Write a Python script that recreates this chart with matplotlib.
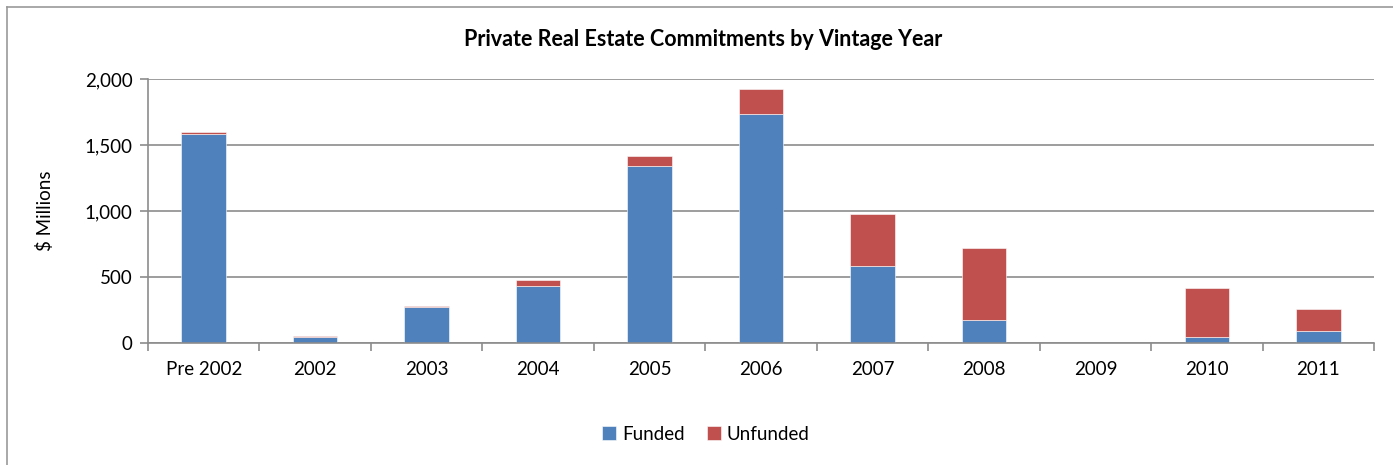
import numpy as np
import matplotlib.pyplot as plt
from matplotlib.lines import Line2D

years = ['Pre 2002', '2002', '2003', '2004', '2005', '2006',
         '2007', '2008', '2009', '2010', '2011']
funded = [1580, 45, 273, 435, 1339, 1732, 580, 175, 0, 43, 91]
unfunded = [20, 5, 10, 46, 76, 190, 395, 541, 0, 370, 165]

blue = '#4F81BD'
red = '#C0504D'
grid_col = '#8C8C8C'

plt.rcParams['font.family'] = ['Lato', 'DejaVu Sans']

fig = plt.figure(figsize=(13.93, 4.65), dpi=100)
ax = fig.add_axes([148 / 1393, 1 - 343 / 465, (1374 - 148) / 1393, (343 - 79) / 465])

x = np.arange(len(years))
ax.bar(x, funded, width=0.4, color=blue, edgecolor='white', linewidth=0.4, label='Funded')
ax.bar(x, unfunded, width=0.4, bottom=funded, color=red, edgecolor='white',
       linewidth=0.4, label='Unfunded')

ax.set_xlim(-0.5, len(years) - 0.5)
ax.set_ylim(0, 2000)
ax.set_yticks([0, 500, 1000, 1500, 2000])
ax.set_yticklabels(['0', '500', '1,000', '1,500', '2,000'])
ax.set_xticks(x)
ax.set_xticklabels(years)
ax.set_xticks(np.arange(-0.5, len(years)), minor=True)
ax.tick_params(axis='x', which='major', length=0, pad=13, labelsize=13.5)
ax.tick_params(axis='x', which='minor', length=6, color=grid_col, width=1.2)
ax.tick_params(axis='y', length=6, color=grid_col, width=1.2, labelsize=13.5, pad=5)

ax.grid(axis='y', color=grid_col, linewidth=1.2)
ax.set_axisbelow(True)
for s in ['top', 'right']:
    ax.spines[s].set_visible(False)
for s in ['left', 'bottom']:
    ax.spines[s].set_color(grid_col)
    ax.spines[s].set_linewidth(1.2)

ax.set_ylabel(r'\$ Millions', fontsize=13.5, labelpad=22)
fig.text(703 / 1393, 1 - 40 / 465, 'Private Real Estate Commitments by Vintage Year',
         ha='center', va='center', fontsize=15.5, fontweight='bold')

fig.legend(*ax.get_legend_handles_labels(), loc='center',
           bbox_to_anchor=(706 / 1393, 1 - 434 / 465), ncol=2,
           frameon=False, fontsize=13.5, handlelength=0.75, handleheight=0.75,
           handletextpad=0.3, columnspacing=1.2)

# chart frame (left and top edges visible)
fig.add_artist(Line2D([7 / 1393, 7 / 1393], [0, 1 - 7 / 465], color='#9A9A9A', linewidth=1.2))
fig.add_artist(Line2D([7 / 1393, 1], [1 - 7 / 465, 1 - 7 / 465], color='#9A9A9A', linewidth=1.2))

fig.savefig('out.png', dpi=100)
